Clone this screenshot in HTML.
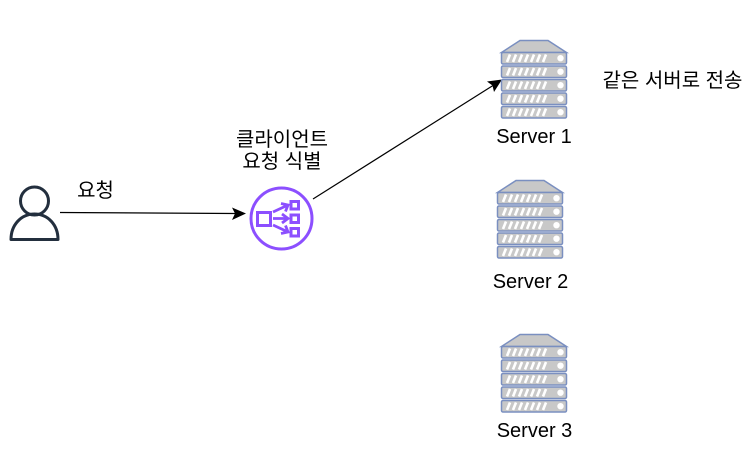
<!DOCTYPE html>
<html>
<head>
<meta charset="utf-8">
<style>
html,body{margin:0;padding:0;background:#fff;}
svg{display:block;}
text{font-family:"Liberation Sans","Noto Sans CJK KR","NanumGothic",sans-serif;font-size:20px;fill:#000;text-anchor:middle;}
</style>
</head>
<body>
<svg width="752" height="458" viewBox="0 0 752 458" xmlns="http://www.w3.org/2000/svg">
<defs>
<g id="bar">
<rect x="501.5" y="0" width="65" height="11.5" rx="1.5" fill="#c8c8c8" stroke="#7a8fc0" stroke-width="1.5"/>
<g stroke="#fff" stroke-width="2.6">
<path d="M507 9.5L510 2M513 9.5L516 2M519 9.5L522 2M525 9.5L528 2M531 9.5L534 2M537 9.5L540 2M543 9.5L546 2"/>
</g>
<circle cx="560.5" cy="5.7" r="3.2" fill="#fff"/>
</g>
<g id="server">
<path d="M520 40.5H548L566.5 52.5H501.5Z" fill="#c8c8c8" stroke="#7a8fc0" stroke-width="1.5"/>
<use href="#bar" y="52.5"/>
<use href="#bar" y="66"/>
<use href="#bar" y="79.5"/>
<use href="#bar" y="93"/>
<use href="#bar" y="106.5"/>
</g>
</defs>

<!-- user -->
<g fill="none" stroke="#232f3e" stroke-width="3">
<circle cx="34.5" cy="201" r="14"/>
<path d="M11 239.5C11 225 21 214 34.5 214C48 214 58 225 58 239.5Z" stroke-linejoin="round"/>
</g>

<!-- arrows -->
<path d="M60 212.5L235 213.5" stroke="#000" stroke-width="1.2" fill="none"/>
<path d="M246 213.5L232 207.5L235 213.5L232 220Z" fill="#000"/>
<path d="M313 199L493 85.5" stroke="#000" stroke-width="1.2" fill="none"/>
<path d="M502 79.5L487 81.5L492.5 85.5L494 92Z" fill="#000"/>

<!-- load balancer -->
<g fill="none" stroke="#8c4fff" stroke-width="3">
<circle cx="281.5" cy="218.5" r="30.5"/>
<rect x="257.5" y="212.5" width="13" height="13"/>
<rect x="291" y="201.5" width="7.5" height="7.5"/>
<rect x="291" y="215" width="7.5" height="7.5"/>
<rect x="291" y="228.5" width="7.5" height="7.5"/>
<g stroke-width="2.8">
<path d="M273 212L287 205.5M273 218.5H287M273 225L287 231.5"/>
<path d="M281 203.5L288 205L285.5 211.5M282 214L288 218.5L282 223M285.5 225.5L288 232L281 233.5"/>
</g>
</g>

<!-- servers -->
<use href="#server"/>
<use href="#server" x="-4" y="140"/>
<use href="#server" y="294"/>

<!-- labels -->
<text x="95.5" y="197">요청</text>
<text x="282" y="146">클라이언트</text>
<text x="282" y="168">요청 식별</text>
<text x="534" y="143">Server 1</text>
<text x="530.5" y="288">Server 2</text>
<text x="534.5" y="437">Server 3</text>
<text x="672.5" y="87">같은 서버로 전송</text>
</svg>
</body>
</html>
